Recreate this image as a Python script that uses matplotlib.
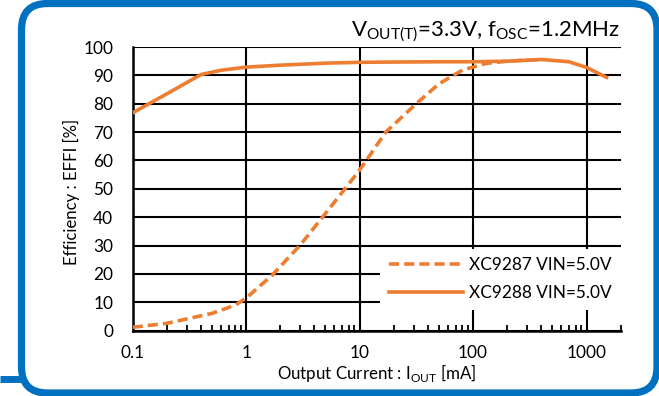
import numpy as np
import matplotlib
matplotlib.use("Agg")
import matplotlib.pyplot as plt
from matplotlib.patches import FancyBboxPatch
from matplotlib.ticker import LogLocator, NullFormatter, FixedLocator, FixedFormatter

plt.rcParams['font.family'] = ['Lato', 'DejaVu Sans']
plt.rcParams['mathtext.fontset'] = 'custom'
plt.rcParams['mathtext.rm'] = 'Lato'

# data
iout_9288 = [0.1, 0.2, 0.4, 0.6, 1, 2, 5, 10, 20, 50, 100, 200, 400, 700, 1000, 1500]
eff_9288 = [76.8, 83.5, 90.3, 91.8, 92.9, 93.6, 94.3, 94.6, 94.7, 94.8, 94.8, 95.0, 95.6, 94.8, 92.8, 89.3]

iout_9287 = [0.1, 0.2, 0.5, 0.8, 1, 1.7, 3, 5.4, 10, 17, 31.5, 50, 81, 130, 200, 400]
eff_9287 = [1.2, 2.6, 6.1, 9.0, 11.5, 19.6, 30.2, 43, 56.6, 70, 80, 87, 91.9, 94.2, 95.0, 95.6]

xticks = [0.1, 1, 10, 100, 1000]
xtick_labels = ['0.1', '1', '10', '100', '1000']
yticks = list(range(0, 101, 10))

orange = '#ED7D31'
blue = '#0070C0'

W, H = 659, 396
fig = plt.figure(figsize=(W / 100, H / 100), dpi=100)

# background frame (pixel coordinates)
bg = fig.add_axes([0, 0, 1, 1], zorder=-1)
bg.set_xlim(0, W)
bg.set_ylim(H, 0)
bg.axis('off')
box = FancyBboxPatch((21.5, 3.5), 657 - 21.5, 393 - 3.5,
                     boxstyle="round,pad=0,rounding_size=26",
                     fc='white', ec=blue, lw=5.2)
bg.add_patch(box)
bg.plot([0, 21.5], [379, 379], color=blue, lw=5.0, solid_capstyle='butt')

ax = fig.add_axes([132.7 / W, 1 - 330.7 / H, (620.7 - 132.7) / W, (330.7 - 47) / H])
ax.set_xscale('log')
ax.set_xlim(0.1, 2000)
ax.set_ylim(0, 100)

ax.plot(iout_9288, eff_9288, color=orange, lw=2.6, label='XC9288 VIN=5.0V', zorder=3)
ax.plot(iout_9287, eff_9287, color=orange, lw=2.6, dashes=(2.8, 1.4),
        label='XC9287 VIN=5.0V', zorder=3)

ax.xaxis.set_major_locator(FixedLocator(xticks))
ax.xaxis.set_major_formatter(FixedFormatter(xtick_labels))
ax.xaxis.set_minor_locator(LogLocator(base=10, subs=np.arange(2, 10), numticks=20))
ax.xaxis.set_minor_formatter(NullFormatter())
ax.set_yticks(yticks)

ax.grid(True, which='major', color='black', lw=1.5)
ax.tick_params(axis='x', which='major', length=0, pad=10.5, labelsize=12.4)
ax.tick_params(axis='x', which='minor', direction='in', length=4, width=1.3)
ax.tick_params(axis='y', which='major', length=0, pad=14, labelsize=12.4)
for s in ['top', 'right']:
    ax.spines[s].set_visible(False)
for s in ['left', 'bottom']:
    ax.spines[s].set_linewidth(1.8)

ax.set_xlabel('Output Current : I$_{\\mathregular{OUT}}$ [mA]', fontsize=12.2, labelpad=0.5)
ax.set_ylabel('Efficiency : EFFI [%]', fontsize=12.1)
ax.yaxis.set_label_coords(-0.108, 0.49)

fig.text(620.7 / W, 1 - 36 / H,
         'V$_{\\mathregular{OUT(T)}}$=3.3V, f$_{\\mathregular{OSC}}$=1.2MHz',
         ha='right', va='baseline', fontsize=16)

handles, labels = ax.get_legend_handles_labels()
leg = ax.legend(handles[::-1], labels[::-1], loc='lower right',
                bbox_to_anchor=(1.0, 0.073), frameon=True, fancybox=False,
                edgecolor='none', facecolor='white', framealpha=1,
                fontsize=12.4, handlelength=4.3, handletextpad=0.4,
                borderaxespad=0, borderpad=0.5, labelspacing=0.7)
leg.set_zorder(5)

fig.savefig('out.png', dpi=100)
